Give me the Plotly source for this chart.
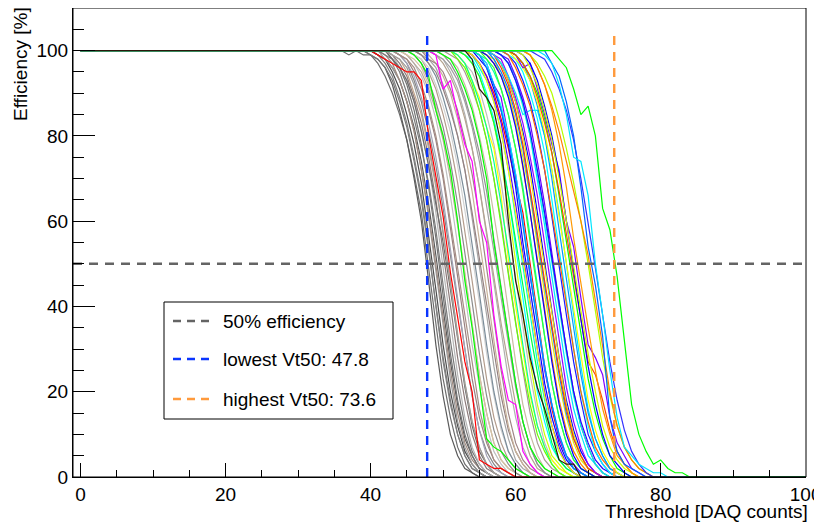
import plotly.graph_objects as go

# ---------------- data ----------------
# first threshold (DAQ counts) at which each channel's efficiency leaves 100 %
curve_starts = [
    36, 40, 40, 41, 41, 41, 41, 42, 42, 42, 42, 43, 43, 43, 43, 44, 44, 44, 44,
    45, 45, 45, 46, 46, 46, 47, 47, 47, 48, 48, 49, 49, 49, 50, 50, 51, 52,
    41, 46, 49,
    52, 50, 52, 52, 53, 53, 53, 54, 54, 54, 54, 55, 55, 55, 55, 55, 56, 56, 56,
    56, 57, 57, 57, 57, 57, 57, 58, 58, 58, 58, 59, 59, 59, 60, 60, 60, 60, 60,
    61, 61, 62, 62, 62, 63, 64, 64, 66,
    54,
]

# efficiency [%] at consecutive integer thresholds from the start value on
curve_efficiencies = [
    [100, 99, 100, 99, 99, 97, 94, 90, 85, 79, 71, 62, 49, 35, 23, 14, 7, 3, 1],
    [99, 98, 96, 92, 86, 79, 70, 60, 46, 31, 19, 10, 5, 2, 1],
    [99, 98, 96, 93, 88, 82, 74, 65, 53, 40, 28, 18, 10, 5, 2, 1],
    [99, 97, 94, 89, 83, 75, 66, 54, 40, 27, 17, 10, 5, 2, 1],
    [99, 98, 95, 91, 85, 78, 69, 57, 44, 31, 20, 12, 6, 3, 1],
    [99, 98, 96, 93, 88, 82, 74, 64, 52, 39, 27, 17, 9, 5, 2, 1],
    [100, 98, 96, 93, 88, 81, 72, 61, 48, 35, 23, 13, 7, 3, 1],
    [99, 97, 93, 88, 81, 72, 62, 50, 37, 25, 15, 8, 4, 2, 1],
    [100, 98, 96, 92, 86, 78, 68, 56, 42, 29, 18, 10, 5, 2, 1],
    [99, 98, 95, 90, 84, 77, 69, 58, 45, 32, 21, 12, 6, 3, 1],
    [100, 99, 96, 93, 88, 81, 73, 62, 49, 36, 24, 14, 7, 3, 1],
    [99, 97, 94, 89, 83, 75, 65, 53, 40, 28, 18, 10, 5, 2, 1],
    [98, 96, 93, 88, 81, 73, 64, 55, 44, 32, 21, 12, 6, 3, 1],
    [99, 98, 95, 90, 85, 77, 68, 57, 45, 33, 22, 13, 7, 3, 1],
    [99, 98, 96, 92, 86, 78, 69, 58, 46, 33, 22, 13, 7, 3, 1],
    [99, 97, 93, 88, 81, 73, 63, 52, 40, 29, 19, 11, 6, 3, 1],
    [99, 97, 94, 89, 83, 75, 65, 54, 42, 30, 19, 11, 5, 2, 1],
    [99, 98, 95, 91, 86, 79, 70, 59, 47, 35, 23, 14, 8, 4, 2, 1],
    [99, 98, 96, 92, 87, 80, 71, 60, 49, 37, 26, 16, 9, 4, 2, 1],
    [99, 97, 94, 90, 84, 76, 66, 55, 43, 31, 21, 12, 6, 3, 1],
    [99, 97, 95, 91, 86, 79, 70, 59, 47, 35, 24, 15, 8, 4, 2, 1],
    [99, 98, 96, 92, 87, 80, 71, 60, 48, 36, 24, 15, 8, 4, 2, 1],
    [99, 97, 93, 88, 82, 74, 64, 53, 41, 29, 19, 11, 6, 3, 1],
    [99, 98, 95, 91, 85, 78, 69, 58, 46, 34, 23, 14, 8, 4, 2, 1],
    [99, 98, 96, 92, 87, 81, 73, 63, 52, 41, 29, 19, 11, 6, 3, 1],
    [99, 97, 94, 89, 83, 75, 66, 55, 43, 31, 20, 12, 6, 3, 1],
    [99, 98, 96, 92, 87, 80, 72, 61, 50, 38, 26, 16, 9, 4, 2, 1],
    [99, 97, 95, 91, 86, 80, 72, 62, 51, 40, 29, 19, 11, 6, 3, 1],
    [99, 97, 94, 90, 84, 76, 67, 56, 44, 32, 21, 12, 6, 3, 1],
    [98, 97, 95, 91, 86, 79, 71, 61, 49, 37, 25, 15, 8, 4, 2, 1],
    [99, 98, 95, 91, 85, 77, 68, 57, 46, 34, 23, 14, 7, 3, 1],
    [99, 97, 94, 90, 84, 77, 68, 58, 47, 36, 26, 17, 10, 5, 2, 1],
    [99, 98, 96, 93, 88, 82, 74, 64, 53, 42, 31, 21, 13, 7, 3, 1],
    [99, 97, 94, 89, 83, 76, 67, 56, 45, 33, 22, 13, 7, 3, 1],
    [99, 98, 96, 92, 87, 80, 72, 62, 51, 39, 27, 17, 10, 5, 2, 1],
    [99, 98, 95, 91, 86, 79, 70, 60, 48, 36, 25, 15, 8, 4, 2, 1],
    [99, 97, 95, 91, 85, 78, 69, 58, 47, 35, 24, 15, 8, 4, 2, 1],
    # red, green, magenta
    [99, 98, 97, 96, 95, 95, 93, 80, 70, 61, 48, 37, 27, 20, 4, 3, 2, 2, 1],
    [99, 97, 94, 86, 80, 72, 60, 46, 35, 22, 9, 7, 6, 4, 2, 1],
    [99, 91, 93, 85, 78, 74, 60, 55, 38, 26, 18, 17, 6, 3, 1],
    # bright channels
    [99, 97, 93, 89, 82, 77, 66, 51, 40, 30, 19, 12, 7, 4, 2, 1],
    [99, 98, 95, 91, 86, 79, 70, 55, 44, 33, 22, 13, 7, 4, 2, 1],
    [99, 97, 93, 88, 82, 74, 64, 53, 41, 30, 20, 12, 7, 3, 1],
    [98, 96, 92, 86, 79, 70, 59, 47, 36, 26, 17, 10, 6, 3, 1],
    [99, 98, 95, 90, 84, 76, 66, 54, 42, 30, 20, 13, 7, 4, 2, 1],
    [99, 97, 94, 89, 83, 74, 63, 50, 38, 27, 17, 10, 5, 3, 1],
    [99, 97, 94, 89, 83, 75, 66, 56, 45, 34, 24, 15, 8, 4, 2, 1],
    [99, 96, 93, 88, 81, 72, 61, 49, 38, 27, 18, 10, 6, 3, 1],
    [99, 97, 94, 90, 84, 77, 69, 62, 50, 38, 26, 16, 9, 5, 2, 1],
    [99, 97, 94, 89, 83, 74, 64, 52, 41, 30, 20, 12, 7, 3, 1],
    [99, 97, 93, 88, 81, 72, 62, 51, 40, 29, 19, 12, 6, 3, 1],
    [98, 96, 91, 86, 78, 68, 55, 44, 33, 22, 14, 8, 4, 2, 1],
    [99, 97, 92, 89, 80, 71, 60, 47, 37, 25, 17, 9, 5, 3, 1],
    [99, 97, 92, 87, 80, 71, 60, 48, 37, 26, 17, 10, 5, 2, 1],
    [99, 96, 92, 86, 79, 70, 59, 47, 36, 26, 17, 10, 5, 2, 1],
    [99, 98, 95, 91, 85, 77, 68, 57, 45, 33, 22, 14, 8, 4, 2, 1],
    [99, 97, 94, 90, 83, 73, 62, 51, 39, 28, 18, 11, 6, 3, 1],
    [98, 96, 91, 85, 77, 67, 55, 44, 32, 22, 14, 8, 4, 2, 1],
    [99, 98, 94, 90, 83, 75, 66, 54, 43, 32, 22, 14, 8, 4, 2, 1],
    [99, 97, 94, 89, 82, 73, 62, 50, 38, 27, 17, 10, 5, 2, 1],
    [98, 95, 91, 85, 77, 67, 56, 45, 34, 24, 15, 9, 5, 2, 1],
    [99, 97, 93, 88, 81, 73, 62, 50, 39, 28, 18, 11, 6, 3, 1],
    [99, 97, 93, 88, 80, 71, 60, 49, 38, 27, 17, 10, 5, 2, 1],
    [99, 96, 92, 86, 78, 68, 57, 46, 35, 25, 16, 9, 5, 2, 1],
    [99, 98, 94, 89, 83, 75, 66, 55, 43, 32, 21, 13, 7, 3, 1],
    [99, 97, 94, 90, 85, 86, 86, 80, 72, 62, 50, 38, 26, 16, 9, 5, 2, 1],
    [99, 97, 94, 88, 80, 70, 59, 47, 36, 25, 16, 10, 5, 3, 1],
    [99, 98, 94, 89, 83, 74, 64, 52, 41, 30, 20, 12, 7, 3, 1],
    [99, 97, 93, 87, 80, 71, 61, 50, 39, 29, 19, 12, 7, 3, 1],
    [99, 97, 93, 88, 81, 72, 62, 51, 40, 30, 20, 13, 8, 4, 2, 1],
    [99, 97, 93, 88, 81, 72, 61, 49, 38, 27, 18, 10, 6, 3, 1],
    [99, 98, 95, 90, 84, 76, 65, 53, 41, 30, 20, 12, 6, 3, 1],
    [99, 96, 92, 87, 80, 72, 62, 51, 40, 30, 20, 13, 7, 4, 2, 1],
    [99, 97, 93, 87, 80, 70, 58, 46, 35, 24, 15, 9, 5, 2, 1],
    [98, 96, 93, 88, 81, 72, 61, 50, 39, 28, 18, 11, 6, 3, 1],
    [99, 96, 97, 91, 85, 78, 72, 60, 54, 42, 31, 28, 24, 14, 8, 5, 2, 1],
    [99, 97, 94, 90, 84, 76, 66, 55, 44, 33, 23, 15, 9, 5, 2, 1],
    [99, 97, 94, 89, 83, 76, 67, 57, 47, 36, 27, 24, 18, 11, 6, 3, 1],
    [99, 97, 93, 87, 80, 71, 60, 48, 37, 26, 17, 10, 5, 3, 1],
    [99, 96, 92, 86, 79, 70, 60, 49, 39, 29, 20, 12, 7, 4, 2, 1],
    [99, 96, 92, 86, 78, 68, 56, 45, 35, 25, 16, 10, 5, 3, 1],
    [99, 97, 94, 90, 84, 77, 69, 60, 50, 39, 28, 19, 12, 7, 4, 2, 1],
    [99, 96, 92, 87, 81, 74, 67, 60, 52, 41, 30, 20, 12, 7, 4, 2, 1],
    [99, 98, 95, 91, 86, 79, 70, 60, 49, 38, 27, 18, 11, 6, 3, 1],
    [100, 97, 94, 88, 80, 68, 54, 45, 33, 14, 6, 3, 2, 1],
    [99, 97, 92, 85, 75, 74, 66, 50, 38, 25, 14, 7, 5, 3, 2, 1, 1],
    [98, 96, 91, 85, 87, 80, 63, 58, 47, 32, 17, 10, 6, 3, 4, 2, 1, 1],
    # dark channel drawn last
    [98, 91, 89, 86, 78, 60, 46, 38, 28, 21, 16, 10, 4, 3, 3],
]

curve_colors = [
    "#6e6e6e", "#5a5a5a", "#767676", "#808080", "#4d4d4d", "#595959", "#999999",
    "#a08c82", "#737373", "#7a7a7a", "#b5b5b5", "#8c7a7a", "#6b6b6b", "#c2a68c",
    "#9c9c9c", "#858585", "#a3a3b8", "#998080", "#a68f85", "#bfbfbf", "#b8a89c",
    "#d4c3a3", "#8c8c8c", "#b39c8c", "#d1d1d1", "#7a8c99", "#a6a6a6", "#948080",
    "#c7b299", "#9e8585", "#b0b0b0", "#b3a38f", "#a1a1a1", "#8f8f8f", "#c9bca3",
    "#a89494", "#bdbdbd",
    "#ff0000", "#00ff00", "#ff00ff",
    "#ffff00", "#00ff00", "#00ff99", "#66ff00", "#00ffff", "#ccff00", "#00ff40",
    "#00ffcc", "#ff0000", "#5500ff", "#ffee00", "#0000ff", "#7f00ff", "#00ffff",
    "#0080ff", "#00ffaa", "#ff8000", "#33ff33", "#e6e600", "#0000ff", "#0080ff",
    "#0000ff", "#e6e600", "#ff4000", "#9900ff", "#00e5ff", "#00e5ff", "#6600ff",
    "#00ffcc", "#2200ff", "#1a1aff", "#00ffff", "#ff6600", "#0099ff", "#ffff00",
    "#8000ff", "#00ff00", "#ff4d00", "#0000ff", "#ccff00", "#ff9900", "#b3ff00",
    "#ff8000", "#3333ff", "#0066ff", "#00e6ff", "#00ff00",
    "#2a160a",
]

half_efficiency = 50.0
vt50_lowest = 47.8
vt50_highest = 73.6
legend_labels = ["50% efficiency", "lowest Vt50: 47.8", "highest Vt50: 73.6"]

# ---------------- figure ----------------
FONT = "Liberation Sans, Arial, Helvetica, sans-serif"
W, H = 822, 524
OFF = 8                      # page body margin of the html page
L, R, T, B = 65, 24, 0, 55
PW, PH = W - L - R, H - T - B


def px_x(p):                 # screen pixel -> paper x
    return (p - OFF - L) / PW


def px_y(p):                 # screen pixel -> paper y
    return (H - B - (p - OFF)) / PH


fig = go.Figure()

for s, vals, col in zip(curve_starts, curve_efficiencies, curve_colors):
    xs = [0, s - 1] + list(range(s, s + len(vals))) + [s + len(vals), 100]
    ys = [100, 100] + list(vals) + [0, 0]
    fig.add_trace(go.Scatter(x=xs, y=ys, mode="lines",
                             line=dict(color=col, width=1.2),
                             showlegend=False, hoverinfo="skip"))

gray_c, blue_c, orange_c = "#646464", "#0a35ff", "#ff9a3c"
dash = "9px,7px"
fig.add_trace(go.Scatter(x=[-1.05, 100], y=[half_efficiency, half_efficiency], mode="lines",
                         line=dict(color=gray_c, width=2.6, dash=dash),
                         showlegend=False, hoverinfo="skip"))
fig.add_trace(go.Scatter(x=[vt50_lowest, vt50_lowest], y=[0, 105], mode="lines",
                         line=dict(color=blue_c, width=2.4, dash=dash),
                         showlegend=False, hoverinfo="skip"))
fig.add_trace(go.Scatter(x=[vt50_highest, vt50_highest], y=[0, 105], mode="lines",
                         line=dict(color=orange_c, width=2.4, dash=dash),
                         showlegend=False, hoverinfo="skip"))

shapes = [
    dict(type="rect", xref="paper", yref="paper", x0=0, x1=1, y0=0, y1=1,
         line=dict(color="black", width=1), layer="above"),
    dict(type="rect", xref="paper", yref="paper",
         x0=px_x(164), x1=px_x(393), y0=px_y(419), y1=px_y(302),
         line=dict(color="black", width=1), fillcolor="white", layer="above"),
]
annotations = []
for lab, col, ypx in zip(legend_labels, [gray_c, blue_c, orange_c], [321, 359, 399]):
    shapes.append(dict(type="line", xref="paper", yref="paper",
                       x0=px_x(173), x1=px_x(213), y0=px_y(ypx), y1=px_y(ypx),
                       line=dict(color=col, width=2.4, dash="8px,6px"), layer="above"))
    annotations.append(dict(text=lab, xref="paper", yref="paper", x=px_x(221), y=px_y(ypx),
                            xanchor="left", yanchor="middle", showarrow=False,
                            font=dict(family=FONT, size=19, color="black")))

annotations.append(dict(text="Threshold [DAQ counts]", xref="paper", yref="paper",
                        x=px_x(810), y=px_y(511), xanchor="right", yanchor="middle",
                        showarrow=False, font=dict(family=FONT, size=19, color="black")))
annotations.append(dict(text="Efficiency [%]", xref="paper", yref="paper",
                        x=px_x(21), y=px_y(5), xanchor="center", yanchor="top",
                        textangle=-90, showarrow=False,
                        font=dict(family=FONT, size=19, color="black")))

fig.update_layout(
    width=W, height=H,
    margin=dict(l=L, r=R, t=T, b=B, pad=0, autoexpand=False),
    paper_bgcolor="white", plot_bgcolor="white",
    font=dict(family=FONT, size=19, color="black"),
    showlegend=False,
    shapes=shapes, annotations=annotations,
    xaxis=dict(range=[-1.05, 100.05], showgrid=False, zeroline=False, automargin=False,
               showline=True, linecolor="black", linewidth=1,
               ticks="inside", ticklen=14, tickwidth=1, tickcolor="black",
               tickmode="linear", tick0=0, dtick=20,
               minor=dict(ticks="inside", ticklen=7, tickwidth=1, tickcolor="black",
                          tick0=0, dtick=5, showgrid=False),
               tickfont=dict(family=FONT, size=19, color="black")),
    yaxis=dict(range=[0, 110], showgrid=False, zeroline=False, automargin=False,
               showline=True, linecolor="black", linewidth=1,
               ticks="inside", ticklen=22, tickwidth=1, tickcolor="black",
               tickmode="array", tickvals=[0, 20, 40, 60, 80, 100],
               minor=dict(ticks="inside", ticklen=11, tickwidth=1, tickcolor="black",
                          tick0=0, dtick=5, showgrid=False),
               tickfont=dict(family=FONT, size=19, color="black")),
)

fig.write_html("out.html")
